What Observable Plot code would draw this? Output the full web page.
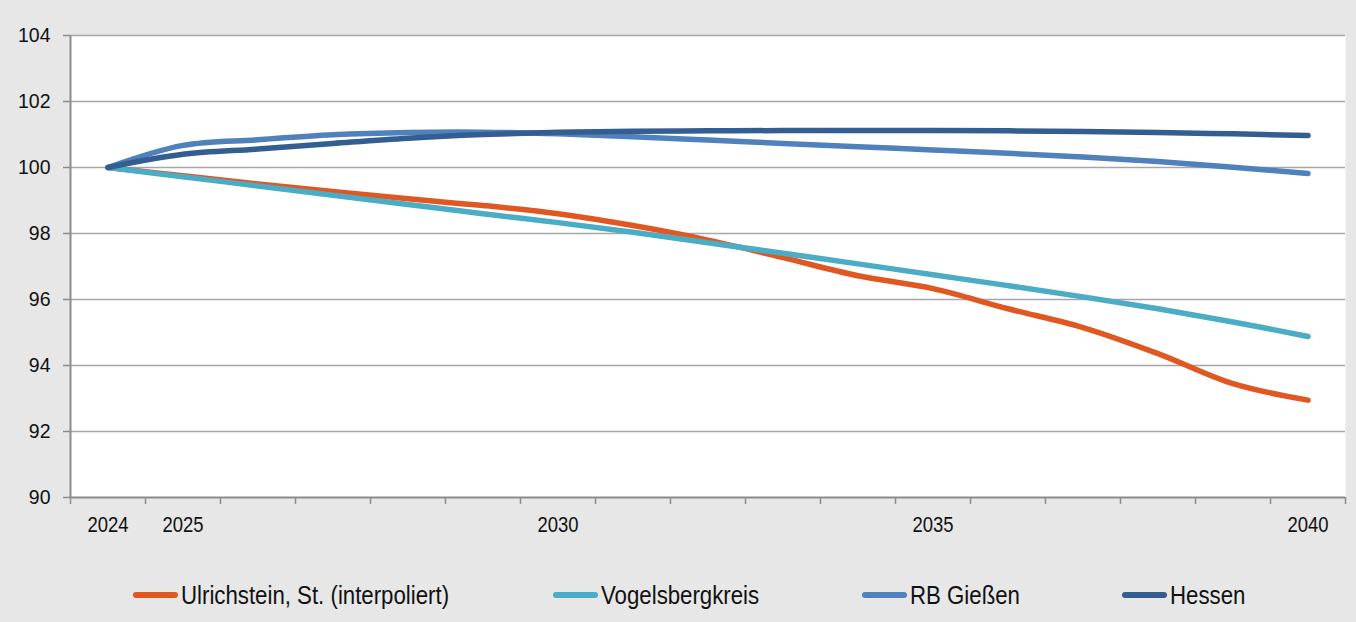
<!DOCTYPE html>
<html><head><meta charset="utf-8">
<script src="https://cdn.jsdelivr.net/npm/d3@7"></script>
<script src="https://cdn.jsdelivr.net/npm/@observablehq/plot@0.6"></script>
<style>
body{margin:0;background:#e7e7e7;}
#wrap{width:1356px;height:622px;position:relative;overflow:hidden;background:#e7e7e7;font-family:"Liberation Sans",Arial,sans-serif;}
#chart svg{display:block;}
#legend{position:absolute;left:0;top:578px;width:1356px;height:34px;}
.item{position:absolute;top:0;height:34px;display:flex;align-items:center;font-size:26px;color:#111;white-space:nowrap;}
.sw{width:45px;height:6px;border-radius:3px;margin-right:3px;flex:none;}
.lt{display:inline-block;transform:scaleX(0.855);transform-origin:0 50%;}
</style></head><body><div id="wrap"><div id="chart"></div><div id="legend"></div></div>
<script>
const years = [2024,2025,2026,2027,2028,2029,2030,2031,2032,2033,2034,2035,2036,2037,2038,2039,2040];
const ulrichstein = [100,99.75,99.5,99.27,99.05,98.85,98.6,98.24,97.8,97.27,96.72,96.33,95.72,95.15,94.36,93.45,92.95];
const vogelsbergkreis = [100,99.72,99.44,99.16,98.88,98.6,98.33,98.04,97.72,97.4,97.08,96.75,96.42,96.08,95.72,95.32,94.88];
const rbGiessen = [100,100.67,100.84,100.99,101.06,101.07,101.02,100.93,100.83,100.73,100.63,100.53,100.43,100.32,100.18,100.01,99.82];
const hessen = [100,100.4,100.56,100.73,100.89,101.0,101.07,101.1,101.11,101.12,101.12,101.12,101.11,101.09,101.06,101.02,100.97];
const seriesNames = ["Ulrichstein, St. (interpoliert)","Vogelsbergkreis","RB Gießen","Hessen"];
const seriesColors = ["#e05722","#4bacc6","#4f81bd","#345e92"];
const xTickLabels = [2024,2025,2030,2035,2040];
const yTicks = [90,92,94,96,98,100,102,104];

const seriesValues = [ulrichstein, vogelsbergkreis, rbGiessen, hessen];
const data = seriesNames.flatMap((name,i)=>years.map((year,j)=>({series:name, year, value:seriesValues[i][j]})));
const boundaries = d3.range(years[0]-0.5, years[years.length-1]+1, 1);

const chart = Plot.plot({
  width:1356, height:545,
  marginTop:35, marginBottom:48, marginLeft:70, marginRight:11,
  style:{background:"transparent", fontFamily:"'Liberation Sans',Arial,sans-serif", color:"#111"},
  x:{domain:[years[0]-0.5, years[years.length-1]+0.5]},
  y:{domain:[90,104]},
  color:{domain:seriesNames, range:seriesColors},
  marks:[
    Plot.frame({fill:"white", stroke:null}),
    Plot.gridY(yTicks.filter(d=>d>90), {stroke:"#a6a6a6", strokeOpacity:1, strokeWidth:1.5}),
    Plot.axisY(yTicks, {tickSize:7, tickPadding:13, stroke:"#8c8c8c", strokeWidth:1.5, label:null, fontSize:19.5, tickFormat:d=>String(d)}),
    Plot.axisX(boundaries, {tickSize:7, tickFormat:()=>"", stroke:"#8c8c8c", strokeWidth:1.5, label:null}),
    Plot.axisX(xTickLabels, {tickSize:0, tickPadding:19, tickFormat:d=>String(d), label:null, fontSize:22}),
    Plot.ruleX([years[0]-0.5], {stroke:"#8c8c8c", strokeWidth:2}),
    Plot.ruleY([90], {stroke:"#8c8c8c", strokeWidth:2}),
    Plot.line(data, {x:"year", y:"value", stroke:"series", z:"series", curve:"catmull-rom", strokeWidth:5.5, strokeLinecap:"round", strokeLinejoin:"round"})
  ]
});
// condense the year labels horizontally, as in the reference
chart.querySelectorAll('g[aria-label="x-axis tick label"] text').forEach(t=>{
  const tr = t.getAttribute("transform") || "";
  t.setAttribute("transform", tr + " scale(0.84,1)");
});
document.getElementById("chart").appendChild(chart);

const legendLeft = [133, 553, 862, 1122];
const legend = document.getElementById("legend");
seriesNames.forEach((name,i)=>{
  const item = document.createElement("div");
  item.className = "item";
  item.style.left = legendLeft[i] + "px";
  const sw = document.createElement("span");
  sw.className = "sw";
  sw.style.background = seriesColors[i];
  const t = document.createElement("span");
  t.className = "lt";
  t.textContent = name;
  item.appendChild(sw); item.appendChild(t);
  legend.appendChild(item);
});
</script>
</body></html>
